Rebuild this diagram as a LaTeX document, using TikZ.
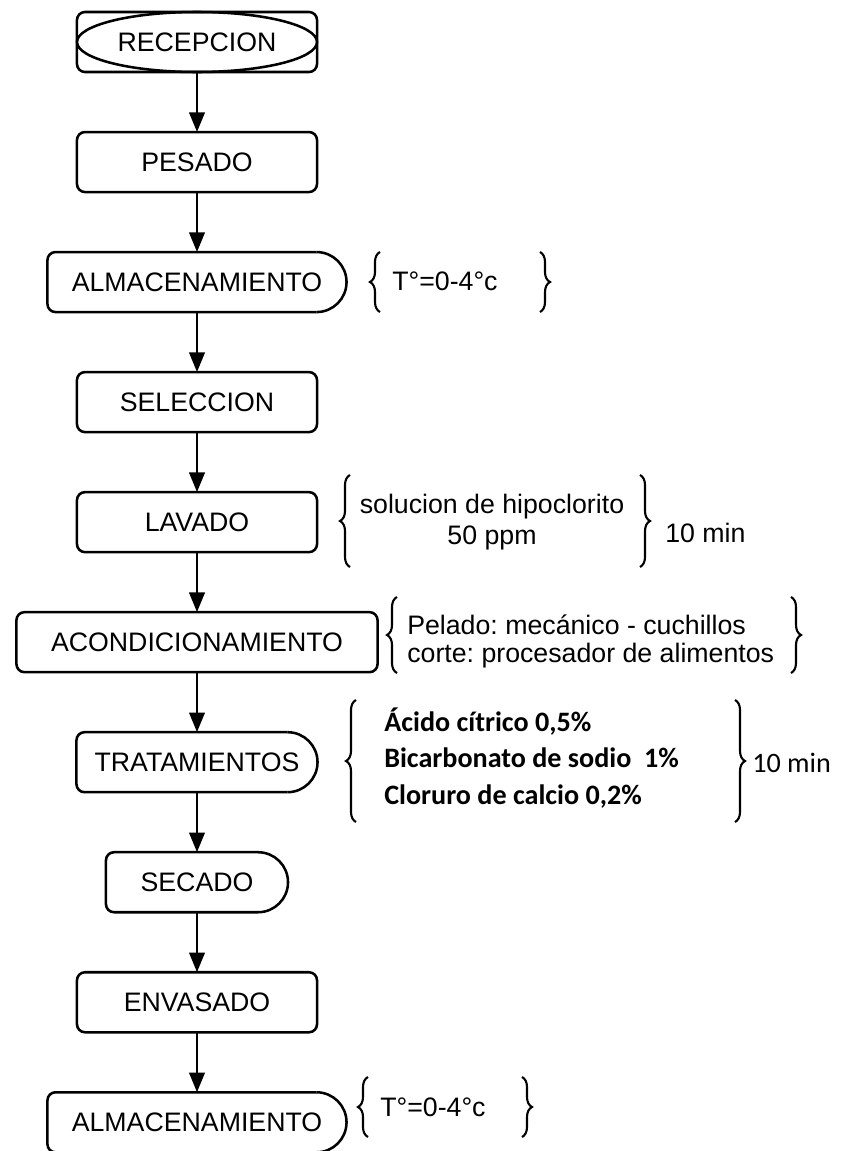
\documentclass[tikz,border=0pt]{standalone}
\usepackage{fontspec}
\setmainfont{Liberation Sans}
\newfontfamily\calibri{Carlito}
\usetikzlibrary{arrows.meta,positioning,calc,decorations.pathreplacing}
\frenchspacing

\begin{document}
\begin{tikzpicture}[x=0.025cm, y=-0.025cm, font=\fontsize{19}{22}\selectfont, node distance=1.5cm,
  paso/.style={draw, line width=1.8pt, rounded corners=2mm, minimum width=6cm, minimum height=1.5cm, outer sep=0pt, align=center},
  retardo/.style={minimum height=1.5cm, outer sep=0pt, align=center},
  flecha/.style={-{Triangle[length=14pt, width=11pt]}, line width=1.8pt},
  llave/.style={decorate, decoration={brace, amplitude=0.25cm}, line width=1.5pt},
  nota/.style={anchor=west, inner sep=0pt, align=left}]
\fill[white] (0,0) rectangle (842,1151);
\useasboundingbox (0,0) rectangle (842,1151);
\node[paso] (rec) at (197,42) {RECEPCION};
\draw[line width=1.8pt] (rec.center) ellipse [x radius=3cm, y radius=0.75cm];
\node[paso, below=of rec] (pes) {PESADO};
\node[retardo, minimum width=7.475cm, below=of pes] (alm1) {ALMACENAMIENTO};
\node[paso, below=of alm1] (sel) {SELECCION};
\node[paso, below=of sel] (lav) {LAVADO};
\node[paso, minimum width=9.025cm, below=of lav] (aco) {ACONDICIONAMIENTO};
\node[retardo, minimum width=6.025cm, below=of aco] (tra) {TRATAMIENTOS};
\node[retardo, minimum width=4.55cm, below=of tra] (sec) {SECADO};
\node[paso, below=of sec] (env) {ENVASADO};
\node[retardo, minimum width=7.475cm, below=of env] (alm2) {ALMACENAMIENTO};

% cajas con el lado derecho redondo
\foreach \n in {alm1,tra,sec,alm2} {
  \draw[line width=1.8pt, rounded corners=2mm] ($(\n.north east)+(-0.75cm,0)$) -- (\n.north west) -- (\n.south west) -- ($(\n.south east)+(-0.75cm,0)$);
  \draw[line width=1.8pt] ($(\n.south east)+(-0.75cm,0)$) arc[start angle=-90, end angle=90, radius=0.75cm];
}

\foreach \a/\b in {rec/pes, pes/alm1, alm1/sel, sel/lav, lav/aco, aco/tra, tra/sec, sec/env, env/alm2}
  \draw[flecha] (\a) -- (\b);

% notas
\draw[llave] (380,312) -- (380,252);
\node[nota] (t1) at (392,281) {T°=0-4°c};
\draw[llave] (540,252) -- (540,312);

\draw[llave] (350,567) -- (350,475);
\node[align=center] (t2) at (492,522) {solucion de hipoclorito\\50 ppm};
\draw[llave] (640,475) -- (640,567);
\node[nota] (t3) at (665,533) {10 min};

\draw[llave] (397,673) -- (397,597);
\node[nota, font=\fontsize{19}{20}\selectfont] (t4) at (407,641) {Pelado: mecánico - cuchillos\\corte: procesador de alimentos};
\draw[llave] (791,597) -- (791,673);

\draw[llave] (356,822) -- (356,700);
\node[nota, font=\calibri\bfseries\fontsize{20}{26}\selectfont] (t5) at (384,758) {Ácido cítrico 0,5\%\\Bicarbonato de sodio\ \ 1\%\\Cloruro de calcio 0,2\%};
\draw[llave] (735,700) -- (735,822);
\node[nota, font=\calibri\fontsize{20}{24}\selectfont] (t6) at (752,763) {10 min};

\draw[llave] (368,1137) -- (368,1077);
\node[nota] (t7) at (380,1107) {T°=0-4°c};
\draw[llave] (522,1077) -- (522,1137);
\end{tikzpicture}
\end{document}
